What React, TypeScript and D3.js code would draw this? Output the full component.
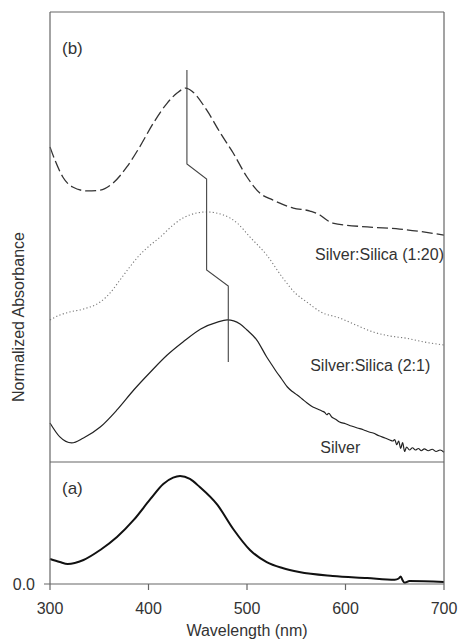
import React from "react";
import * as d3 from "d3";

// Panel (b): stacked normalized spectra, arbitrary offsets [wavelength nm, value]
const silica120: [number, number][] = [
  [300, 2.1], [305, 2.013], [313, 1.9], [323, 1.833], [338, 1.807], [351, 1.813], [364, 1.86],
  [378, 1.967], [391, 2.1], [405, 2.26], [419, 2.393], [429, 2.46], [438, 2.493], [445, 2.467],
  [459, 2.347], [473, 2.193], [486, 2.06], [500, 1.9], [513, 1.793], [526, 1.747], [547, 1.693],
  [564, 1.673], [574, 1.647], [581, 1.613], [587, 1.593], [622, 1.567], [655, 1.553], [700, 1.513],
];
const silica21: [number, number][] = [
  [300, 0.947], [310, 0.98], [320, 1.0], [334, 1.02], [351, 1.067], [361, 1.127], [371, 1.213],
  [381, 1.3], [391, 1.38], [402, 1.447], [412, 1.5], [425, 1.58], [435, 1.627], [449, 1.66],
  [459, 1.667], [476, 1.647], [490, 1.593], [503, 1.5], [520, 1.38], [536, 1.23], [550, 1.12],
  [560, 1.07], [575, 1.0], [594, 0.96], [610, 0.915], [628, 0.867], [645, 0.84], [662, 0.825],
  [680, 0.8], [700, 0.78],
];
const silver: [number, number][] = [
  [300, 0.26], [310, 0.167], [322, 0.127], [334, 0.16], [351, 0.233], [368, 0.347], [385, 0.48],
  [402, 0.6], [419, 0.713], [435, 0.8], [453, 0.887], [470, 0.933], [480, 0.947], [493, 0.92],
  [500, 0.88], [510, 0.813], [520, 0.7], [525, 0.65], [530, 0.6], [535, 0.555], [541, 0.5],
  [546, 0.47], [551, 0.447], [556, 0.42], [561, 0.393], [566, 0.37], [571, 0.355], [576, 0.34],
  [579, 0.33], [581, 0.315], [583, 0.325], [586, 0.3], [590, 0.285], [594, 0.267], [600, 0.255],
  [606, 0.24], [612, 0.227], [618, 0.215], [624, 0.2], [628, 0.193], [634, 0.175], [640, 0.16],
  [645, 0.147], [648, 0.14], [650, 0.15], [652, 0.115], [654, 0.14], [656, 0.09], [658, 0.13],
  [660, 0.07], [662, 0.1], [665, 0.08], [668, 0.095], [671, 0.08], [674, 0.09], [677, 0.075],
  [680, 0.088], [684, 0.075], [688, 0.085], [692, 0.07], [696, 0.08], [700, 0.065],
];
// Peak-shift marker
const peakMarker: [number, number][] = [
  [439, 2.613], [439, 1.987], [459, 1.887], [459, 1.28], [481, 1.173], [481, 0.667],
];
// Panel (a)
const panelA: [number, number][] = [
  [300, 0.205], [310, 0.18], [318, 0.164], [334, 0.197], [351, 0.279], [368, 0.385], [385, 0.525],
  [402, 0.697], [415, 0.82], [425, 0.872], [432, 0.885], [442, 0.861], [452, 0.795], [470, 0.648],
  [486, 0.451], [503, 0.279], [520, 0.18], [536, 0.131], [553, 0.098], [587, 0.066], [622, 0.049],
  [650, 0.035], [654, 0.045], [656, 0.062], [658, 0.03], [660, 0.01], [665, 0.025], [700, 0.016],
];

const xTicks = [300, 400, 500, 600, 700];
const labels = [
  { text: "Silver:Silica (1:20)", wl: 700, v: 1.347 },
  { text: "Silver:Silica (2:1)", wl: 686, v: 0.607 },
  { text: "Silver", wl: 615, v: 0.06 },
];

export default function App() {
  const W = 459, H = 639;
  const left = 50, right = 444, top = 12, mid = 462, bottom = 584;
  const x = d3.scaleLinear().domain([300, 700]).range([left, right]);
  const yB = d3.scaleLinear().domain([0, 3]).range([mid, top]);
  const yA = d3.scaleLinear().domain([0, 1]).range([bottom, mid]);
  const lineB = d3.line<[number, number]>().x(d => x(d[0])).y(d => yB(d[1])).curve(d3.curveMonotoneX);
  const lineA = d3.line<[number, number]>().x(d => x(d[0])).y(d => yA(d[1])).curve(d3.curveMonotoneX);
  const lineM = d3.line<[number, number]>().x(d => x(d[0])).y(d => yB(d[1]));
  const font = "'Liberation Sans', Arial, sans-serif";
  const axisColor = "#666";
  const txt = "#333";
  const fs = 16;
  return (
    <svg width={W} height={H} style={{ position: "absolute", left: 0, top: 0, background: "#fff" }}>
      <rect x={0} y={0} width={W} height={H} fill="#fff" />
      <path d={lineB(silica120) || ""} fill="none" stroke="#333" strokeWidth={1.3} strokeDasharray="11,4" />
      <path d={lineB(silica21) || ""} fill="none" stroke="#777" strokeWidth={1.1} strokeDasharray="1.2,2.3" />
      <path d={lineB(silver) || ""} fill="none" stroke="#222" strokeWidth={1.2} />
      <path d={lineM(peakMarker) || ""} fill="none" stroke="#444" strokeWidth={1.1} />
      <path d={lineA(panelA) || ""} fill="none" stroke="#111" strokeWidth={2} />
      {/* frame */}
      <line x1={left} x2={right} y1={top} y2={top} stroke={axisColor} strokeWidth={1.2} />
      <line x1={left} x2={left} y1={top} y2={bottom} stroke={axisColor} strokeWidth={1.2} />
      <line x1={right} x2={right} y1={top} y2={bottom} stroke={axisColor} strokeWidth={1.2} />
      <line x1={left} x2={right} y1={mid} y2={mid} stroke={axisColor} strokeWidth={1.2} />
      <line x1={left - 6} x2={right} y1={bottom} y2={bottom} stroke={axisColor} strokeWidth={1.2} />
      {xTicks.map(t => (
        <g key={t}>
          <line x1={x(t)} x2={x(t)} y1={bottom} y2={bottom + 6} stroke={axisColor} strokeWidth={1.2} />
          <text x={x(t)} y={bottom + 30} textAnchor="middle" fontFamily={font} fontSize={fs} fill={txt}>{t}</text>
        </g>
      ))}
      <text x={left - 15} y={yA(0) + 6} textAnchor="end" fontFamily={font} fontSize={fs} fill={txt}>0.0</text>
      <text x={(left + right) / 2} y={636} textAnchor="middle" fontFamily={font} fontSize={fs} fill={txt}>Wavelength (nm)</text>
      <text transform={`translate(24,${(top + bottom) / 2 + 19}) rotate(-90)`} textAnchor="middle" fontFamily={font} fontSize={fs} fill={txt}>Normalized Absorbance</text>
      <text x={62} y={54} fontFamily={font} fontSize={fs + 1} fill={txt}>(b)</text>
      <text x={62} y={494} fontFamily={font} fontSize={fs + 1} fill={txt}>(a)</text>
      {labels.map(l => (
        <text key={l.text} x={x(l.wl)} y={yB(l.v)} textAnchor="end" fontFamily={font} fontSize={fs} fill={txt}>{l.text}</text>
      ))}
    </svg>
  );
}
